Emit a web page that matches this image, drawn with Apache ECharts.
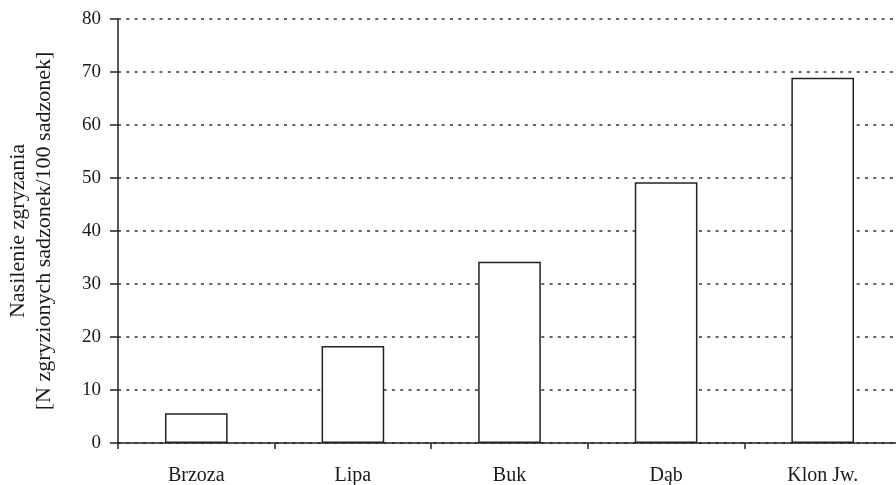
<!DOCTYPE html>
<html>
<head>
<meta charset="utf-8">
<script src="https://cdn.jsdelivr.net/npm/echarts@6/dist/echarts.min.js"></script>
<style>
    html, body {margin: 0; padding: 0; background: #fff; overflow: hidden;}
    #chart {width: 901px; height: 485px;}
</style>
</head>
<body>
<div id="chart"></div>
<script>
const categories = ['Brzoza', 'Lipa', 'Buk', 'Dąb', 'Klon Jw.'];
const values = [5.6, 18.3, 34.2, 49.2, 68.9];
const yTicks = [0, 10, 20, 30, 40, 50, 60, 70, 80];

const font = '"Liberation Serif", "DejaVu Serif", serif';

// wykres jest szerszy niz okno, prawa krawedz siatki jest ucieta jak w oryginale
const chart = echarts.init(document.getElementById('chart'));
chart.setOption({
    backgroundColor: '#ffffff',
    animation: false,
    textStyle: {fontFamily: font},
    grid: {left: 118, right: 0, top: 19, bottom: 42, outerBoundsMode: 'none'},
    xAxis: {
        type: 'category',
        data: categories,
        axisLine: {lineStyle: {color: '#222', width: 1.5}},
        axisTick: {show: true, length: 6, lineStyle: {color: '#222', width: 1.5}},
        axisLabel: {color: '#1a1a1a', fontSize: 20, fontFamily: font, margin: 23}
    },
    yAxis: {
        type: 'value',
        min: yTicks[0],
        max: yTicks[yTicks.length - 1],
        interval: 10,
        name: 'Nasilenie zgryzania\n[N zgryzionych sadzonek/100 sadzonek]',
        nameLocation: 'middle',
        nameGap: 61,
        nameTextStyle: {color: '#1a1a1a', fontSize: 22, fontFamily: font, lineHeight: 26},
        axisLine: {show: true, lineStyle: {color: '#222', width: 1.5}},
        axisTick: {show: true, length: 8, lineStyle: {color: '#222', width: 1.5}},
        axisLabel: {color: '#1a1a1a', fontSize: 19, fontFamily: font, margin: 17},
        splitLine: {show: true, lineStyle: {color: '#333', width: 1.5, type: [3, 5.3]}}
    },
    series: [{
        type: 'bar',
        data: values,
        barWidth: '40%',
        itemStyle: {color: '#ffffff', borderColor: '#222', borderWidth: 1.5}
    }]
});
</script>
</body>
</html>
